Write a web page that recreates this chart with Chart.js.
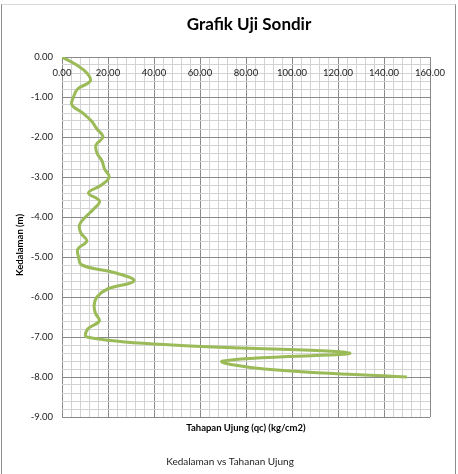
<!DOCTYPE html>
<html>
<head>
<meta charset="utf-8">
<title>Grafik Uji Sondir</title>
<script src="https://cdn.jsdelivr.net/npm/chart.js@4.4.1/dist/chart.umd.min.js"></script>
<style>
  html, body { margin: 0; padding: 0; background: #fff; }
  #wrap { position: relative; width: 458px; height: 474px; overflow: hidden; }
  #frame {
    position: absolute; left: 1px; top: 4px; width: 453px; height: 480px;
    border-left: 1px solid #8c8c8c; border-right: 1px solid #8c8c8c;
    border-top: 1px solid #d9d9d9; pointer-events: none;
  }
</style>
</head>
<body>
<div id="wrap">
  <canvas id="chart" width="458" height="474"></canvas>
  <div id="frame"></div>
</div>
<script>
// depth (m) and cone resistance qc (kg/cm2)
var depths = [0.0, -0.2, -0.4, -0.6, -0.8, -1.0, -1.2, -1.4, -1.6, -1.8,
              -2.0, -2.2, -2.4, -2.6, -2.8, -3.0, -3.2, -3.4, -3.6, -3.8,
              -4.0, -4.2, -4.4, -4.6, -4.8, -5.0, -5.2, -5.4, -5.6, -5.8,
              -6.0, -6.2, -6.4, -6.6, -6.8, -7.0, -7.2, -7.4, -7.6, -7.8, -8.0];
var qcValues = [0.0, 6.4, 10.8, 12.3, 6.8, 5.0, 4.3, 9.0, 12.8, 15.2,
                17.8, 14.8, 15.2, 17.4, 18.5, 20.5, 17.2, 11.5, 16.3, 13.8,
                10.2, 7.6, 8.2, 10.8, 6.9, 7.2, 8.6, 23.5, 31.3, 19.8,
                15.2, 14.0, 14.5, 16.2, 11.2, 10.8, 48, 125, 70, 88, 150];

var xMin = 0, xMax = 160, xMajor = 20, xMinor = 4;
var yMin = -9, yMax = 0, yMajor = 1, yMinor = 0.2;

var chartTitle = 'Grafik Uji Sondir';
var xTitle = 'Tahapan Ujung (qc) (kg/cm2)';
var yTitle = 'Kedalaman (m)';
var seriesName = 'Kedalaman vs Tahanan Ujung';

var fontFam = 'Lato, "Open Sans", sans-serif';

function isMajor(v, step) {
  var r = v / step;
  return Math.abs(r - Math.round(r)) < 1e-6;
}

var points = depths.map(function (d, i) { return { x: qcValues[i], y: d }; });

// texts placed like the Excel chart: title, x title under plot, series name
var textPlugin = {
  id: 'texts',
  afterDraw: function (chart) {
    var ctx = chart.ctx, a = chart.chartArea;
    var cx = (a.left + a.right) / 2;
    ctx.save();
    ctx.textAlign = 'center';
    ctx.textBaseline = 'middle';
    ctx.fillStyle = '#000';
    ctx.font = 'bold 17px ' + fontFam;
    ctx.fillText(chartTitle, cx + 3, 25);
    ctx.font = 'bold 9.5px ' + fontFam;
    ctx.fillText(xTitle, cx, a.bottom + 11);
    ctx.font = '10px ' + fontFam;
    ctx.fillStyle = '#222';
    ctx.fillText(seriesName, 230, 462);
    // y title, centred a bit lower like the original
    ctx.translate(20, 245);
    ctx.rotate(-Math.PI / 2);
    ctx.font = 'bold 9.5px ' + fontFam;
    ctx.fillStyle = '#000';
    ctx.fillText(yTitle, 0, 0);
    ctx.restore();
  }
};

new Chart(document.getElementById('chart'), {
  type: 'scatter',
  data: {
    datasets: [{
      label: seriesName,
      data: points,
      showLine: true,
      borderColor: '#9BBB59',
      borderWidth: 3,
      pointRadius: 0,
      pointHoverRadius: 0,
      tension: 0.4,
      fill: false
    }]
  },
  options: {
    responsive: false,
    animation: false,
    devicePixelRatio: 1,
    layout: { padding: { top: 57, bottom: 57, left: 0, right: 28 } },
    plugins: {
      legend: { display: false },
      tooltip: { enabled: false }
    },
    scales: {
      x: {
        type: 'linear',
        position: { y: 0 },
        min: xMin, max: xMax,
        border: { display: false },
        grid: {
          drawTicks: false,
          color: function (c) { return isMajor(c.tick.value, xMajor) ? '#8a8a8a' : '#d3d3d3'; }
        },
        ticks: {
          stepSize: xMinor,
          autoSkip: false,
          maxRotation: 0,
          padding: 10,
          color: '#1a1a1a',
          font: { family: fontFam, size: 9.5 },
          callback: function (v) { return isMajor(v, xMajor) ? v.toFixed(2) : ''; }
        }
      },
      y: {
        type: 'linear',
        min: yMin, max: yMax,
        border: { display: false },
        afterFit: function (s) { s.width = 62; },
        grid: {
          drawTicks: false,
          color: function (c) { return isMajor(c.tick.value, yMajor) ? '#8a8a8a' : '#d3d3d3'; }
        },
        ticks: {
          stepSize: yMinor,
          autoSkip: false,
          padding: 9,
          color: '#1a1a1a',
          font: { family: fontFam, size: 9.5 },
          callback: function (v) { return isMajor(v, yMajor) ? v.toFixed(2) : ''; }
        }
      }
    }
  },
  plugins: [textPlugin]
});
</script>
</body>
</html>
